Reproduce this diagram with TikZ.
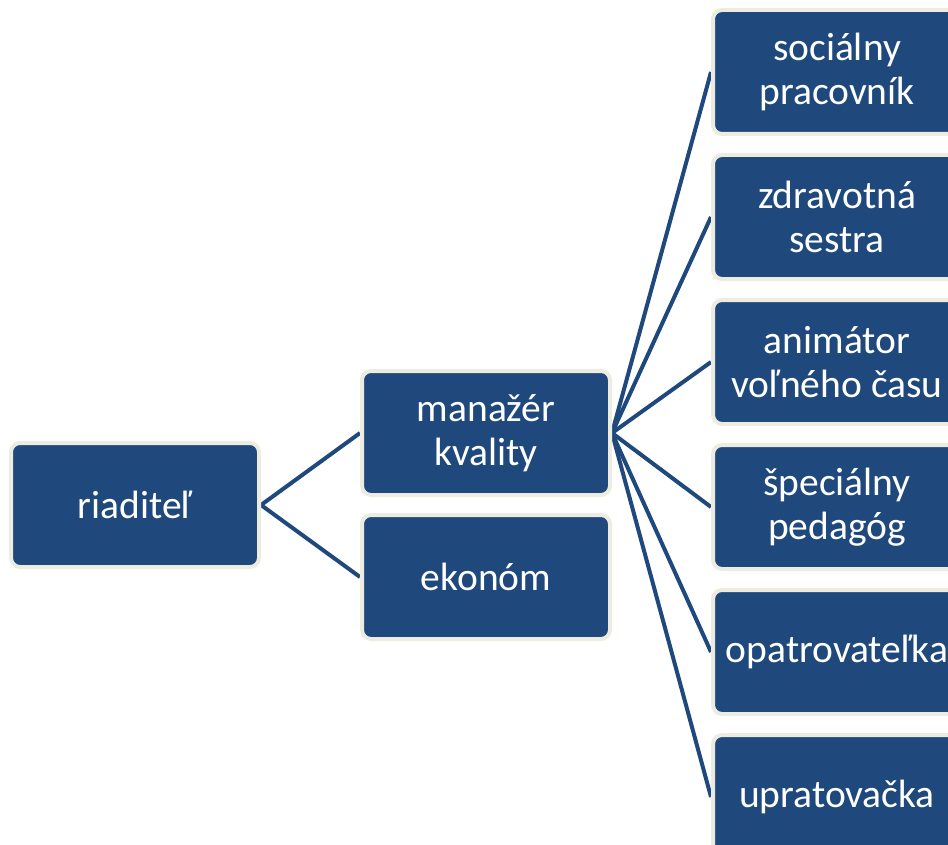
\documentclass[tikz,border=0pt]{standalone}
\usepackage{fontspec}
\setmainfont{Carlito}
\usetikzlibrary{backgrounds}
\definecolor{boxblue}{HTML}{1F497D}
\definecolor{boxrim}{HTML}{EEECE1}
\begin{document}
\begin{tikzpicture}[x=1pt, y=-1pt,
  role/.style={draw=boxrim, line width=4pt, fill=boxblue, rounded corners=9pt,
    minimum width=248pt, minimum height=124pt, align=center, text=white,
    font=\fontsize{39.5}{44}\selectfont},
  link/.style={draw=boxblue, line width=4pt}]
% Set the page size
\useasboundingbox (0,0) rectangle (948,845);
\clip (0,0) rectangle (948,845);

% Draw the boxes
\node[role] (riaditel) at (135,505) {riaditeľ};
\node[role] (manazer) at (486,433) {manažér\\kvality};
\node[role] (ekonom) at (486,577) {ekonóm};
\node[role] (socialny) at (837,72) {sociálny\\pracovník};
\node[role] (sestra) at (837,217) {zdravotná\\sestra};
\node[role] (animator) at (837,362) {animátor\\voľného času};
\node[role] (pedagog) at (837,507) {špeciálny\\pedagóg};
\node[role] (opatrovatelka) at (837,652) {opatrovateľka};
\node[role] (upratovacka) at (837,797) {upratovačka};

% Draw the links behind the boxes
\begin{scope}[on background layer]
\draw[link] (manazer.west) -- (riaditel.east) -- (ekonom.west);
\foreach \n in {socialny, sestra, animator, pedagog, opatrovatelka, upratovacka}
  \draw[link] (manazer.east) -- (\n.west);
\end{scope}
\end{tikzpicture}
\end{document}
